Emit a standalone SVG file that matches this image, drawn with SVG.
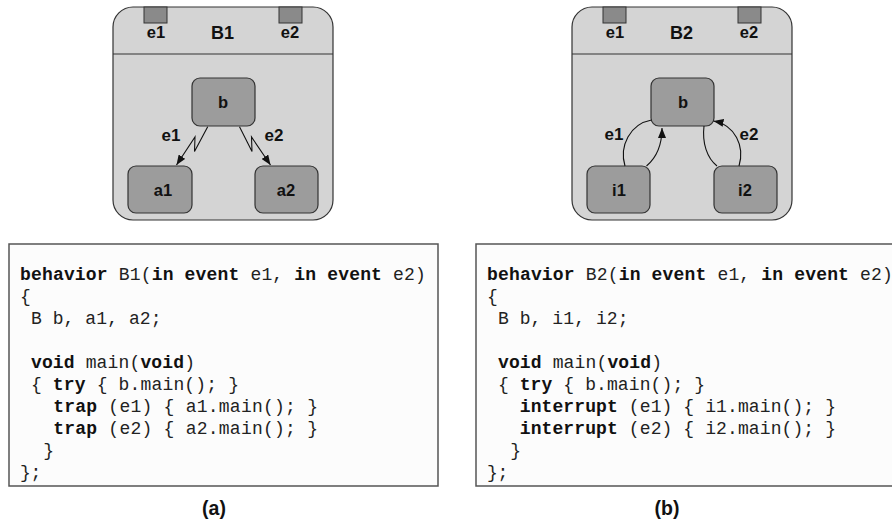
<svg xmlns="http://www.w3.org/2000/svg" width="892" height="522" viewBox="0 0 892 522">
  <style>
    .frame { fill: #d4d4d4; stroke: #333; stroke-width: 1.2; }
    .divider { stroke: #333; stroke-width: 1; }
    .port { fill: #8a8a8a; stroke: #333; stroke-width: 1; }
    .state { fill: #9c9c9c; stroke: #333; stroke-width: 1.2; }
    .lbl { font-family: "Liberation Sans", Arial, sans-serif; font-weight: bold; font-size: 16.5px; fill: #111; text-anchor: middle; }
    .title { font-size: 18px; }
    .tl { font-size: 17px; }
    .edge { fill: none; stroke: #111; stroke-width: 1.1; }
    .codebox { fill: #fcfcfc; stroke: #555; stroke-width: 1.5; }
    .code { font-family: "Liberation Mono", "Courier New", monospace; font-size: 18px; fill: #222; white-space: pre; }
    .code .k { font-weight: bold; fill: #111; }
    .cap { font-family: "Liberation Sans", Arial, sans-serif; font-weight: bold; font-size: 19.5px; fill: #111; text-anchor: middle; }
  </style>
  <defs>
    <marker id="arrow" viewBox="0 0 10 8" refX="10" refY="4" markerWidth="10" markerHeight="8" markerUnits="userSpaceOnUse" orient="auto">
      <path d="M0,0 L10,4 L0,8 z" fill="#111"/>
    </marker>
  </defs>

  <!-- Behavior B1: trap composition -->
  <g id="B1">
    <rect class="frame" x="113" y="7" width="220" height="213" rx="20"/>
    <line class="divider" x1="113" y1="54" x2="333" y2="54"/>
    <rect class="port" x="144" y="7" width="23" height="16"/>
    <rect class="port" x="279" y="7" width="23" height="16"/>
    <text class="lbl" x="156" y="38">e1</text>
    <text class="lbl title" x="222.5" y="39">B1</text>
    <text class="lbl" x="290" y="38">e2</text>
  </g>
  <g id="B1_b">
    <rect class="state" x="192" y="78" width="63" height="48" rx="8"/>
    <text class="lbl" x="223" y="108">b</text>
  </g>
  <g id="B1_a1">
    <rect class="state" x="128" y="166" width="64" height="47" rx="8"/>
    <text class="lbl" x="163" y="196">a1</text>
  </g>
  <g id="B1_a2">
    <rect class="state" x="255" y="166" width="63" height="47" rx="8"/>
    <text class="lbl" x="286" y="196">a2</text>
  </g>

  <!-- Behavior B2: interrupt composition -->
  <g id="B2">
    <rect class="frame" x="572" y="7" width="220" height="213" rx="20"/>
    <line class="divider" x1="572" y1="54" x2="792" y2="54"/>
    <rect class="port" x="603" y="7" width="23" height="16"/>
    <rect class="port" x="738" y="7" width="23" height="16"/>
    <text class="lbl" x="615" y="38">e1</text>
    <text class="lbl title" x="681.5" y="39">B2</text>
    <text class="lbl" x="749" y="38">e2</text>
  </g>
  <g id="B2_b">
    <rect class="state" x="651" y="78" width="63" height="48" rx="8"/>
    <text class="lbl" x="683" y="108">b</text>
  </g>
  <g id="B2_i1">
    <rect class="state" x="587" y="166" width="63" height="47" rx="8"/>
    <text class="lbl" x="619" y="196">i1</text>
  </g>
  <g id="B2_i2">
    <rect class="state" x="714" y="166" width="63" height="47" rx="8"/>
    <text class="lbl" x="745" y="196">i2</text>
  </g>

  <!-- Transitions -->
  <g id="connectors">
    <polyline class="edge" points="207.7,126.7 194.5,151.5 195,137 176.5,165" marker-end="url(#arrow)"/>
    <polyline class="edge" points="239.5,126.7 252,151.5 251.5,137 270.5,165" marker-end="url(#arrow)"/>
    <text class="lbl tl" x="171" y="141">e1</text>
    <text class="lbl tl" x="274" y="141">e2</text>

    <path class="edge" d="M625,166 C619,146 630,124 651.5,120"/>
    <path class="edge" d="M646.5,166 C656,158 662,145 662,128" marker-end="url(#arrow)"/>
    <path class="edge" d="M717,166 C707,158 702,143 704,126"/>
    <path class="edge" d="M739,166 C745,146 735,125 713.5,121" marker-end="url(#arrow)"/>
    <text class="lbl tl" x="614" y="140">e1</text>
    <text class="lbl tl" x="749" y="140">e2</text>
  </g>

  <!-- SpecC listings -->
  <g id="code_a">
    <rect class="codebox" x="9" y="244" width="429" height="242"/>
    <text class="code" x="20" y="280" textLength="405.8" lengthAdjust="spacing"><tspan class="k">behavior</tspan> B1(<tspan class="k">in</tspan> <tspan class="k">event</tspan> e1, <tspan class="k">in</tspan> <tspan class="k">event</tspan> e2)</text>
    <text class="code" x="20" y="302">{</text>
    <text class="code" x="20" y="324" textLength="141.5" lengthAdjust="spacing"> B b, a1, a2;</text>
    <text class="code" x="20" y="368" textLength="175" lengthAdjust="spacing"> <tspan class="k">void</tspan> main(<tspan class="k">void</tspan>)</text>
    <text class="code" x="20" y="390" textLength="219" lengthAdjust="spacing"> { <tspan class="k">try</tspan> { b.main(); }</text>
    <text class="code" x="20" y="412" textLength="298" lengthAdjust="spacing">   <tspan class="k">trap</tspan> (e1) { a1.main(); }</text>
    <text class="code" x="20" y="434" textLength="298" lengthAdjust="spacing">   <tspan class="k">trap</tspan> (e2) { a2.main(); }</text>
    <text class="code" x="20" y="456" textLength="34" lengthAdjust="spacing">  }</text>
    <text class="code" x="20" y="478" textLength="21.4" lengthAdjust="spacing">};</text>
  </g>
  <g id="code_b">
    <rect class="codebox" x="476" y="244" width="430" height="242"/>
    <text class="code" x="487" y="280" textLength="405.8" lengthAdjust="spacing"><tspan class="k">behavior</tspan> B2(<tspan class="k">in</tspan> <tspan class="k">event</tspan> e1, <tspan class="k">in</tspan> <tspan class="k">event</tspan> e2)</text>
    <text class="code" x="487" y="302">{</text>
    <text class="code" x="487" y="324" textLength="141.5" lengthAdjust="spacing"> B b, i1, i2;</text>
    <text class="code" x="487" y="368" textLength="175" lengthAdjust="spacing"> <tspan class="k">void</tspan> main(<tspan class="k">void</tspan>)</text>
    <text class="code" x="487" y="390" textLength="218" lengthAdjust="spacing"> { <tspan class="k">try</tspan> { b.main(); }</text>
    <text class="code" x="487" y="412" textLength="349" lengthAdjust="spacing">   <tspan class="k">interrupt</tspan> (e1) { i1.main(); }</text>
    <text class="code" x="487" y="434" textLength="349" lengthAdjust="spacing">   <tspan class="k">interrupt</tspan> (e2) { i2.main(); }</text>
    <text class="code" x="487" y="456" textLength="34" lengthAdjust="spacing">  }</text>
    <text class="code" x="487" y="478" textLength="21.4" lengthAdjust="spacing">};</text>
  </g>

  <text class="cap" x="214" y="515">(a)</text>
  <text class="cap" x="667" y="515">(b)</text>
</svg>
